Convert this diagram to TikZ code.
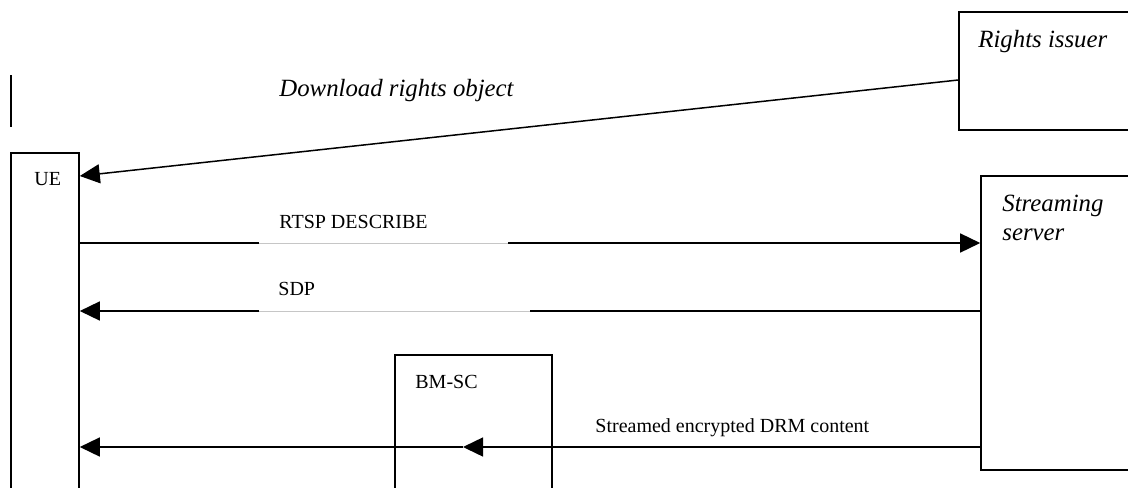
\documentclass[tikz,border=0pt]{standalone}
\usepackage{fontspec}
\setmainfont{Liberation Serif}
\usetikzlibrary{arrows.meta,fit}
\begin{document}
\begin{tikzpicture}[x=0.5pt,y=-0.5pt,
  box/.style={draw,line width=0.8pt,inner sep=0pt},
  lbl/.style={inner sep=0pt,anchor=base west,font=\fontsize{10}{12}\selectfont},
  ilbl/.style={inner sep=0pt,anchor=base west,font=\fontsize{12.4}{14.5}\selectfont\itshape},
  msg/.style={line width=0.75pt},
  tip/.style={msg,-{Triangle[length=10pt,width=9.5pt]}},
  gapline/.style={draw=gray!45,line width=0.45pt}]
\useasboundingbox (0,0) rectangle (1128,487);
\clip (0,0) rectangle (1128,487);

% entity boxes
\node[box,fit={(959,12) (1140,130)}] (ri) {};
\node[box,fit={(981,176) (1140,470)}] (ss) {};
\node[box,fit={(11,153) (79,500)}] (ue) {};
\node[box,fit={(395,355) (552,500)}] (bm) {};

% box captions
\node[ilbl] (riT) at (978,47) {Rights issuer};
\node[ilbl,align=left,anchor=north west] (ssT) at (1002,195) {Streaming\\server};
\node[lbl] (ueT) at (34,185) {UE};
\node[lbl] (bmT) at (415,388) {BM-SC};

% margin bar
\draw[line width=0.9pt] (11,75) -- (11,127);

% rights object download
\draw[tip] (ri.west |- 0,80) -- (ue.east |- 0,176);
\node[ilbl] (dlT) at (279,96) {Download rights object};

% RTSP DESCRIBE
\coordinate (r1) at (259,243);
\coordinate (r2) at (508,243);
\draw[msg] (ue.east |- r1) -- (r1);
\draw[gapline] (r1) -- (r2);
\draw[tip] (r2) -- (ss.west |- r2);
\node[lbl] (rtspT) at (279,228) {RTSP DESCRIBE};

% SDP answer
\coordinate (s1) at (259,311);
\coordinate (s2) at (530,311);
\draw[msg] (ss.west |- s2) -- (s2);
\draw[gapline] (s2) -- (s1);
\draw[tip] (s1) -- (ue.east |- s1);
\node[lbl] (sdpT) at (278,295) {SDP};

% streamed content through the BM-SC
\coordinate (m) at (463,447);
\draw[tip] (ss.west |- m) -- (m);
\draw[tip] (m) -- (ue.east |- m);
\node[lbl] (stT) at (595,432) {Streamed encrypted DRM content};
\end{tikzpicture}
\end{document}
